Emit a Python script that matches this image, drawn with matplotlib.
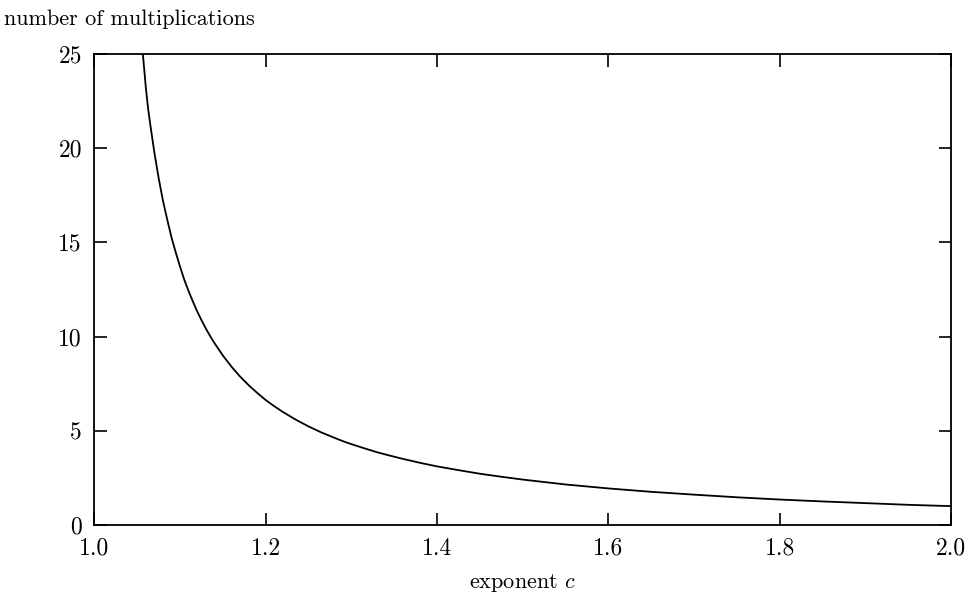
import matplotlib
matplotlib.use("Agg")
import matplotlib.pyplot as plt

# values
exponent = [1.0565, 1.06, 1.0625, 1.065, 1.07, 1.075, 1.08, 1.085, 1.09, 1.095,
            1.10, 1.105, 1.11, 1.115, 1.12, 1.125, 1.13, 1.135, 1.14, 1.15,
            1.16, 1.17, 1.18, 1.19, 1.20, 1.21, 1.22, 1.235, 1.25, 1.265,
            1.28, 1.29, 1.30, 1.315, 1.33, 1.345, 1.36, 1.38, 1.40, 1.425,
            1.45, 1.475, 1.50, 1.55, 1.60, 1.65, 1.70, 1.75, 1.80, 1.85,
            1.90, 1.95, 2.00]
multiplications = [25.0, 23.2, 22.15, 21.3, 19.75, 18.4, 17.2, 16.2, 15.25, 14.45,
                   13.7, 13.0, 12.4, 11.85, 11.33, 10.87, 10.43, 10.03, 9.66, 8.99,
                   8.4, 7.88, 7.42, 7.01, 6.63, 6.3, 6.0, 5.59, 5.23, 4.91,
                   4.63, 4.45, 4.29, 4.07, 3.86, 3.68, 3.51, 3.30, 3.11, 2.91,
                   2.72, 2.56, 2.41, 2.15, 1.94, 1.76, 1.61, 1.47, 1.35, 1.25,
                   1.16, 1.07, 1.00]

xticks = [1.0, 1.2, 1.4, 1.6, 1.8, 2.0]
xticklabels = ["1.0", "1.2", "1.4", "1.6", "1.8", "2.0"]
yticks = [0, 5, 10, 15, 20, 25]
yticklabels = ["0", "5", "10", "15", "20", "25"]

plt.rcParams['font.family'] = 'cmr10'
plt.rcParams['mathtext.fontset'] = 'cm'
plt.rcParams['axes.formatter.use_mathtext'] = True
fs = 16

fig = plt.figure(figsize=(9.69, 6.01), dpi=100)
ax = fig.add_axes([0.0975, 0.1265, 0.9814 - 0.0975, 0.9101 - 0.1265])

ax.plot(exponent, multiplications, color='black', linewidth=1.3)

ax.set_xlim(1.0, 2.0)
ax.set_ylim(0, 25)
ax.set_xticks(xticks)
ax.set_xticklabels(xticklabels)
ax.set_yticks(yticks)
ax.set_yticklabels(yticklabels)
ax.tick_params(direction='in', length=9, width=1.2, top=True, right=True,
               labelsize=17, pad=9)
for s in ax.spines.values():
    s.set_linewidth(1.3)

fig.text(0.004, 0.968, "number of multiplications", fontsize=fs, va='center', ha='left')
fig.text(0.539, 0.030, r"exponent $c$", fontsize=fs, va='center', ha='center')

fig.savefig("out.png", dpi=100)
